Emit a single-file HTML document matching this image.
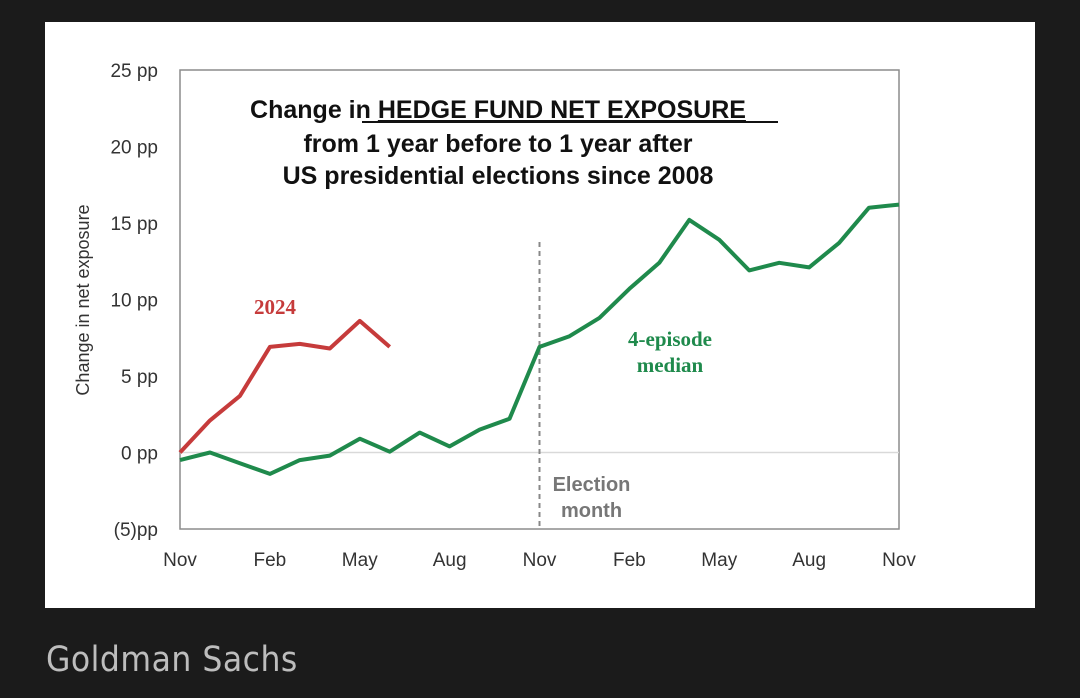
<!DOCTYPE html>
<html><head><meta charset="utf-8"><style>
body{margin:0;background:#1b1b1b;width:1080px;height:698px;overflow:hidden;font-family:"Liberation Sans",sans-serif}
#panel{position:absolute;left:45px;top:22px;width:990px;height:586px;background:#fff}
#src{position:absolute;left:46px;top:640px;color:#bdbdbd;font-size:35px;font-family:"DejaVu Sans Condensed","DejaVu Sans",sans-serif;letter-spacing:0.5px}
</style></head><body>
<div id="panel"></div>
<svg id="chart" width="1080" height="698" style="position:absolute;left:0;top:0"></svg>
<div id="src">Goldman Sachs</div>
<script>
const xLabels=["Nov","Feb","May","Aug","Nov","Feb","May","Aug","Nov"];
const yTicks=[-5,0,5,10,15,20,25];
const yTickLabels=["(5)pp","0 pp","5 pp","10 pp","15 pp","20 pp","25 pp"];
const medianValues=[-0.5,0,-0.7,-1.4,-0.5,-0.2,0.9,0.05,1.3,0.4,1.5,2.2,6.9,7.6,8.8,10.7,12.4,15.2,13.9,11.9,12.4,12.1,13.7,16.0,16.2];
const y2024Values=[0,2.1,3.7,6.9,7.1,6.8,8.6,6.9];
const electionMonth=12;
const NS="http://www.w3.org/2000/svg";
const svg=document.getElementById('chart');
const L=180,R=899,T=70,B=529,ymin=-5,ymax=25,nMonths=24;
const xs=m=>L+(R-L)*m/nMonths;
const ys=v=>B-(B-T)*(v-ymin)/(ymax-ymin);
function mk(t,a,txt){const e=document.createElementNS(NS,t);for(const k in a)e.setAttribute(k,a[k]);if(txt!==undefined)e.textContent=txt;svg.appendChild(e);return e;}
let e;
e=mk('rect',{x:L,y:T,width:R-L,height:B-T,fill:'none',stroke:'#8c8c8c','stroke-width':1.5});


e=mk('line',{x1:L,x2:R,y1:ys(0),y2:ys(0),stroke:'#d9d9d9','stroke-width':1.5});


yTicks.forEach((v,i)=>{
 e=mk('text',{x:158,y:ys(v)+7,'text-anchor':'end','font-size':19,fill:'#333'},yTickLabels[i]);
 
 
});
xLabels.forEach((l,i)=>{
 e=mk('text',{x:xs(i*3),y:566,'text-anchor':'middle','font-size':19,fill:'#333'},l);
 
 
});
e=mk('text',{x:0,y:0,transform:'translate(89,300) rotate(-90)','text-anchor':'middle','font-size':18,fill:'#333'},'Change in net exposure');


const tl=["Change in HEDGE FUND NET EXPOSURE","from 1 year before to 1 year after","US presidential elections since 2008"];
e=mk('text',{x:498,y:118,'text-anchor':'middle','font-size':25,'font-weight':'bold',fill:'#111'});
e.innerHTML='Change in <tspan text-decoration="underline">HEDGE FUND NET EXPOSURE</tspan>';


e=mk('line',{x1:362,x2:778,y1:122,y2:122,stroke:'#111','stroke-width':2});


[tl[1],tl[2]].forEach((t,i)=>{
 e=mk('text',{x:498,y:152+i*32,'text-anchor':'middle','font-size':25,'font-weight':'bold',fill:'#111'},t);
 
 
});
e=mk('line',{x1:xs(electionMonth),x2:xs(electionMonth),y1:242,y2:B,stroke:'#888','stroke-width':2,'stroke-dasharray':'5,4'});


['Election','month'].forEach((t,i)=>{
 e=mk('text',{x:xs(electionMonth)+52,y:491+i*26,'text-anchor':'middle','font-size':20,'font-weight':'bold',fill:'#777'},t);
 
 
});
function line(vals,col,name){
 const p=vals.map((v,i)=>xs(i).toFixed(1)+','+ys(v).toFixed(1)).join(' ');
 const el=mk('polyline',{points:p,fill:'none',stroke:col,'stroke-width':4,'stroke-linejoin':'round'});
 
 
}
line(medianValues,'#1f8a4c','median-line');
line(y2024Values,'#c63b3b','line-2024');
e=mk('text',{x:275,y:314,'text-anchor':'middle','font-size':21,'font-weight':'bold',fill:'#c63b3b','font-family':'Liberation Serif'},'2024');


['4-episode','median'].forEach((t,i)=>{
 e=mk('text',{x:670,y:346+i*26,'text-anchor':'middle','font-size':21,'font-weight':'bold',fill:'#1f8a4c','font-family':'Liberation Serif'},t);
 
 
});
</script>
</body></html>
